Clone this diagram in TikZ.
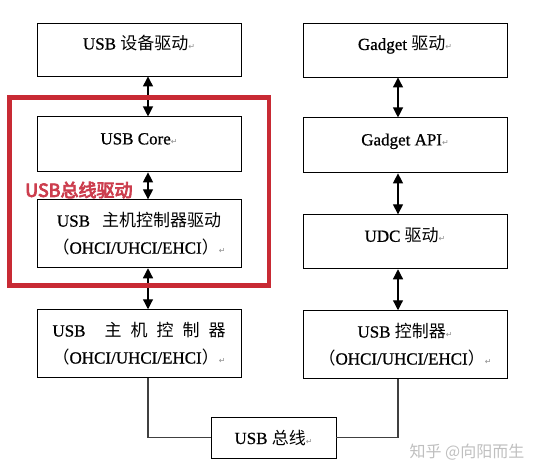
\documentclass[tikz,border=0pt]{standalone}
\usepackage{fontspec}
\usepackage{xcolor}
\usepackage{tikz}
\usetikzlibrary{positioning,calc,arrows.meta}
\setmainfont{Liberation Serif}[FakeBold=0.8]
\newfontfamily\cjk{Noto Sans CJK SC}
\newfontfamily\cjkbold[FakeBold=4.5]{Noto Sans CJK SC}
\newfontfamily\symb{DejaVu Sans}
\newcommand{\zh}[1]{{\cjk #1}}
\newcommand{\ret}{{\symb\fontsize{8}{8}\selectfont\color{black!45}↵}}
\definecolor{frameRed}{RGB}{200,42,52}
\definecolor{labelRed}{RGB}{204,62,78}

\begin{document}
\begin{tikzpicture}[x=1pt, y=-1pt, auto,
    layer/.style={draw, rectangle, line width=0.9pt, minimum width=204pt,
        font=\fontsize{17}{27}\selectfont, align=center, inner sep=0pt},
    single/.style={layer, minimum height=54pt, text height=11pt, text depth=11pt},
    double/.style={layer, minimum height=68pt},
    dbl/.style={line width=1.2pt, {Triangle[length=10pt,width=10pt]}-{Triangle[length=10pt,width=10pt]}},
    wire/.style={line width=1.2pt, draw=black!75}]
    \useasboundingbox (0,0) rectangle (538,476);

    % Left side (host)
    \node [single, minimum height=53pt] (drv) at (139,49.5) {USB \zh{设备驱动}\ret};
    \node [single, minimum height=55pt, below=40pt of drv] (core) {USB Core\ret};
    \node [double, below=27pt of core] (hostdrv) {USB\hspace{12pt}\zh{主机控制器驱动}\\\zh{（}OHCI/UHCI/EHCI\zh{）}\ret};
    \node [double, below=41pt of hostdrv] (hostctl) {USB\hspace{19pt}\zh{主}\hspace{9pt}\zh{机}\hspace{9pt}\zh{控}\hspace{9pt}\zh{制}\hspace{9pt}\zh{器}\\\zh{（}OHCI/UHCI/EHCI\zh{）}\ret};

    % Right side (gadget)
    \node [single] (gdrv) at (405,50) {Gadget \zh{驱动}\ret};
    \node [single, minimum height=55pt, below=40pt of gdrv] (gapi) {Gadget API\ret};
    \node [single, below=41pt of gapi] (udc) {UDC \zh{驱动}\ret};
    \node [double, below=41pt of udc] (uctl) {USB \zh{控制器}\ret\\\zh{（}OHCI/UHCI/EHCI\zh{）}\ret};

    % Bus
    \node [layer, minimum width=125pt, minimum height=41pt] (bus) at (273.5,437.5) {USB \zh{总线}\ret};

    \coordinate (la) at (148,0);
    \coordinate (ra) at (398,0);
    \draw [dbl] (drv.south -| la) -- (core.north -| la);
    \draw [dbl] (core.south -| la) -- (hostdrv.north -| la);
    \draw [dbl] (hostdrv.south -| la) -- (hostctl.north -| la);
    \draw [dbl] (gdrv.south -| ra) -- (gapi.north -| ra);
    \draw [dbl] (gapi.south -| ra) -- (udc.north -| ra);
    \draw [dbl] (udc.south -| ra) -- (uctl.north -| ra);
    \draw [wire] (hostctl.south -| la) |- (bus.west);
    \draw [wire] (uctl.south -| ra) |- (bus.east);

    % Bus driver frame
    \draw [frameRed, line width=4.5pt] (9.5,97.5) rectangle (269,285.5);
    \node [anchor=west, text=labelRed, inner sep=0pt, font=\fontsize{18}{18}\cjkbold] (busdrvlabel) at (25,190) {USB总线驱动};

    % Watermark
    \node [text=black!25, inner sep=0pt, font=\fontsize{16}{16}\cjk] (mark) at (467,452) {知乎 @向阳而生};

\end{tikzpicture}
\end{document}
